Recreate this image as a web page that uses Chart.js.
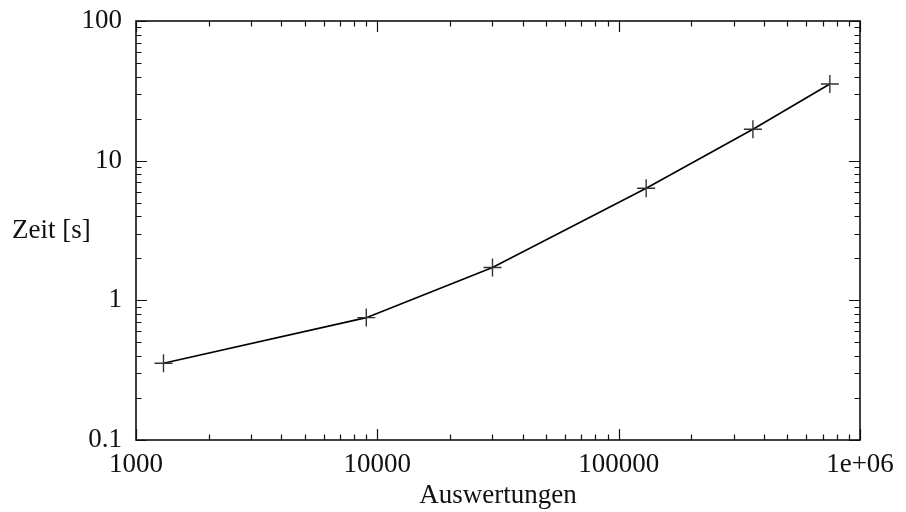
<!DOCTYPE html>
<html>
<head>
<meta charset="utf-8">
<script src="https://cdn.jsdelivr.net/npm/chart.js@4/dist/chart.umd.min.js"></script>
<style>
  html, body { margin: 0; padding: 0; background: #fff; }
  #wrap { width: 906px; height: 512px; }
</style>
</head>
<body>
<div id="wrap"><canvas id="c" width="906" height="512"></canvas></div>
<script>
// Werte
const auswertungen = [1300, 9000, 30000, 130000, 360000, 750000];
const zeit = [0.354, 0.752, 1.72, 6.34, 16.8, 35.4];

const xTicks = [1000, 10000, 100000, 1000000];
const xTickLabels = ['1000', '10000', '100000', '1e+06'];
const yTicks = [0.1, 1, 10, 100];
const yTickLabels = ['0.1', '1', '10', '100'];

const FONT = "'Liberation Serif', 'Times New Roman', serif";
const INK = '#111';

// Rahmen + Ticks nach innen auf allen vier Seiten (wie gnuplot)
const frameTicks = {
  id: 'frameTicks',
  afterDraw(chart) {
    const { ctx, chartArea: a, scales } = chart;
    const x = scales.x, y = scales.y;
    const major = 11, minor = 5.5;
    ctx.save();
    ctx.strokeStyle = INK;
    ctx.lineWidth = 1.2;
    ctx.beginPath();
    for (let i = 0; i < xTicks.length; i++) {
      const d = xTicks[i];
      const ms = i < xTicks.length - 1 ? [1,2,3,4,5,6,7,8,9] : [1];
      ms.forEach(m => {
        const px = Math.round(x.getPixelForValue(d * m)) + 0.5;
        const len = m === 1 ? major : minor;
        ctx.moveTo(px, a.bottom); ctx.lineTo(px, a.bottom - len);
        ctx.moveTo(px, a.top); ctx.lineTo(px, a.top + len);
      });
    }
    for (let i = 0; i < yTicks.length; i++) {
      const d = yTicks[i];
      const ms = i < yTicks.length - 1 ? [1,2,3,4,5,6,7,8,9] : [1];
      ms.forEach(m => {
        const py = Math.round(y.getPixelForValue(d * m)) + 0.5;
        const len = m === 1 ? major : minor;
        ctx.moveTo(a.left, py); ctx.lineTo(a.left + len, py);
        ctx.moveTo(a.right, py); ctx.lineTo(a.right - len, py);
      });
    }
    ctx.stroke();
    ctx.lineWidth = 1.6;
    ctx.strokeRect(a.left, a.top, a.right - a.left, a.bottom - a.top);

    // y-Beschriftung waagerecht
    ctx.fillStyle = INK;
    ctx.font = '27px ' + FONT;
    ctx.textAlign = 'left';
    ctx.textBaseline = 'middle';
    ctx.fillText('Zeit [s]', 12, (a.top + a.bottom) / 2);
    ctx.restore();
  }
};

new Chart(document.getElementById('c'), {
  type: 'scatter',
  data: {
    datasets: [{
      data: auswertungen.map((v, i) => ({ x: v, y: zeit[i] })),
      showLine: true,
      borderColor: '#000',
      borderWidth: 1.6,
      pointStyle: 'cross',
      pointRadius: 9,
      pointBorderColor: '#333',
      pointBorderWidth: 1.4,
      pointBackgroundColor: '#333'
    }]
  },
  options: {
    responsive: false,
    animation: false,
    events: [],
    layout: { padding: { top: 21, right: 46, left: 0, bottom: 0 } },
    plugins: { legend: { display: false }, tooltip: { enabled: false } },
    scales: {
      x: {
        type: 'logarithmic',
        min: 1000, max: 1000000,
        grid: { display: false, drawTicks: false },
        border: { display: false },
        afterBuildTicks: s => { s.ticks = xTicks.map(v => ({ value: v })); },
        afterFit: s => { s.height = 72; s.paddingLeft = 0; s.paddingRight = 0; },
        ticks: {
          autoSkip: false, maxRotation: 0, padding: 9,
          color: INK, font: { family: FONT, size: 27 },
          callback: v => xTickLabels[xTicks.indexOf(v)]
        },
        title: {
          display: true, text: 'Auswertungen', color: INK,
          font: { family: FONT, size: 27 }, padding: { top: 0, bottom: 0 }
        }
      },
      y: {
        type: 'logarithmic',
        min: 0.1, max: 100,
        grid: { display: false, drawTicks: false },
        border: { display: false },
        afterBuildTicks: s => { s.ticks = yTicks.map(v => ({ value: v })); },
        afterFit: s => { s.width = 136; s.paddingTop = 0; s.paddingBottom = 0; },
        ticks: {
          autoSkip: false, padding: 14,
          color: INK, font: { family: FONT, size: 27 },
          callback: v => yTickLabels[yTicks.indexOf(v)]
        }
      }
    }
  },
  plugins: [frameTicks]
});
</script>
</body>
</html>
